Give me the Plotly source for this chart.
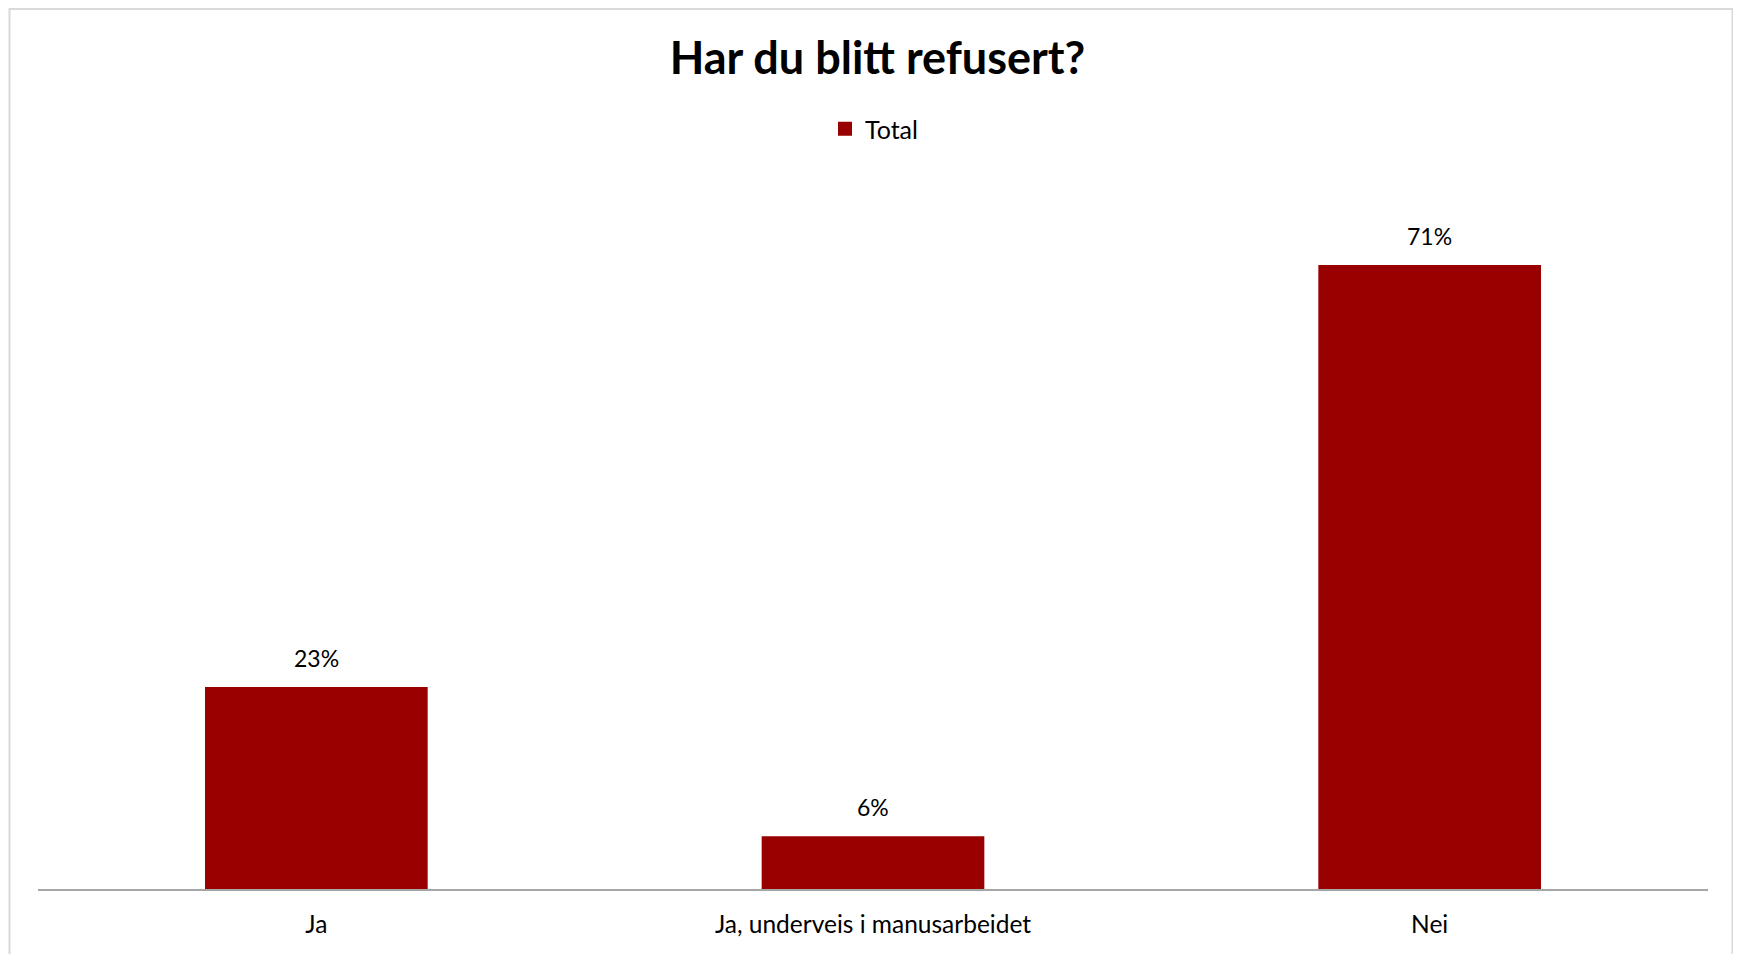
import plotly.graph_objects as go

categories = ["Ja", "Ja, underveis i manusarbeidet", "Nei"]
values = [23, 6, 71]
labels = ["23%", "6%", "71%"]
series_name = "Total"

BAR = "#990000"
FONT = "Lato"
OFF = 8  # page body margin offset

W, H = 1741, 954
L = 37.5 - OFF
R = W - (1708.5 - OFF)
T = 186 - OFF
B = H - (889 - OFF)
pw = W - L - R
ph = H - T - B

def px_x(p):
    return (p - OFF - L) / pw

def px_y(p):
    return (H - B - (p - OFF)) / ph

fig = go.Figure()
fig.add_trace(go.Bar(
    x=categories, y=values, name=series_name,
    marker=dict(color=BAR, line=dict(width=0)),
    showlegend=False,
))
fig.add_trace(go.Scatter(
    x=[None], y=[None], mode="markers", name=series_name,
    marker=dict(symbol="square", size=14, color=BAR),
    showlegend=True, hoverinfo="skip",
))

for c, v, t in zip(categories, values, labels):
    fig.add_annotation(x=c, y=v, text=t, showarrow=False, yanchor="bottom",
                       yshift=13, font=dict(family=FONT, size=23, color="#000000"))

fig.add_shape(type="rect", xref="paper", yref="paper",
              x0=px_x(9), x1=px_x(1733), y0=px_y(1000), y1=px_y(9),
              line=dict(color="#d9d9d9", width=2), fillcolor="rgba(0,0,0,0)", layer="below")

fig.update_layout(
    width=W, height=H,
    margin=dict(l=L, r=R, t=T, b=B, autoexpand=False),
    paper_bgcolor="white", plot_bgcolor="white",
    bargap=0.6,
    title=dict(text="<b>Har du blitt refusert?</b>", x=px_x(872), xanchor="center",
               y=1 - (58 - OFF) / H, yanchor="middle",
               font=dict(family=FONT, size=45, color="#000000")),
    legend=dict(orientation="h", x=px_x(874), xanchor="center", y=px_y(129), yanchor="middle",
                font=dict(family=FONT, size=25, color="#000000"), itemwidth=30,
                bgcolor="rgba(0,0,0,0)"),
    font=dict(family=FONT, size=23, color="#000000"),
    xaxis=dict(showline=True, linecolor="#a6a6a6", linewidth=2, showgrid=False,
               ticks="", ticklabelstandoff=13, tickfont=dict(family=FONT, size=24.5, color="#000000"),
               zeroline=False),
    yaxis=dict(range=[0, 80], showgrid=False, showticklabels=False, zeroline=False,
               showline=False),
)

fig.write_html("out.html")
